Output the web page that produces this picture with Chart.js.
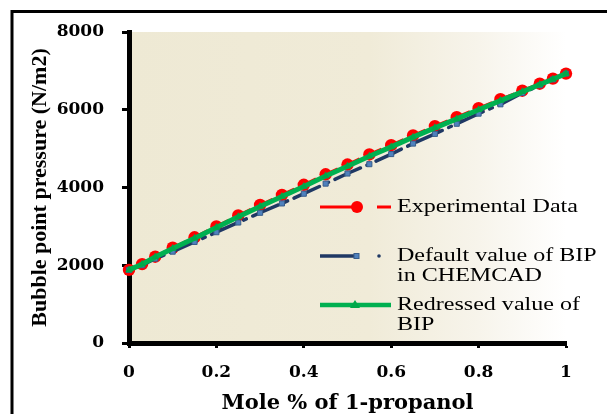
<!DOCTYPE html>
<html>
<head>
<meta charset="utf-8">
<script src="https://cdn.jsdelivr.net/npm/chart.js@4.4.1/dist/chart.umd.min.js"></script>
<style>
html,body{margin:0;padding:0;background:#fff;}
canvas{display:block;}
</style>
</head>
<body>
<canvas id="c" width="607" height="414"></canvas>
<script>
// ---- data ----
const molFraction = [0, 0.03, 0.06, 0.1, 0.15, 0.2, 0.25, 0.3, 0.35, 0.4, 0.45, 0.5, 0.55, 0.6, 0.65, 0.7, 0.75, 0.8, 0.85, 0.9, 0.94, 0.97, 1.0];
const experimental = [1880, 2030, 2220, 2450, 2720, 3000, 3280, 3550, 3810, 4070, 4340, 4590, 4850, 5090, 5340, 5580, 5810, 6040, 6270, 6490, 6670, 6800, 6930];
const defaultBIP   = [1880, 2000, 2170, 2350, 2600, 2850, 3100, 3350, 3590, 3840, 4100, 4360, 4600, 4860, 5130, 5380, 5640, 5900, 6140, 6430, 6630, 6780, 6930];
const redressedBIP = [1880, 2025, 2210, 2430, 2695, 2970, 3245, 3510, 3770, 4025, 4295, 4545, 4805, 5045, 5295, 5535, 5765, 6000, 6235, 6460, 6650, 6785, 6930];
const xTickLabels = ['0', '0.2', '0.4', '0.6', '0.8', '1'];
const yTickLabels = ['0', '2000', '4000', '6000', '8000'];
const legendLabels = [['Experimental Data'], ['Default value of BIP', 'in CHEMCAD'], ['Redressed value of', 'BIP']];
const xTitle = 'Mole % of 1-propanol';
const yTitle = 'Bubble point pressure (N/m2)';

function pts(ys) { return molFraction.map((x, i) => ({x: x, y: ys[i]})); }

const bgPlugin = {
  id: 'bg',
  beforeDraw(chart) {
    const {ctx, chartArea: a} = chart;
    ctx.save();
    ctx.fillStyle = '#ffffff';
    ctx.fillRect(0, 0, chart.width, chart.height);
    const g = ctx.createLinearGradient(a.left, 0, a.right, 0);
    g.addColorStop(0, '#EEE9D4');
    g.addColorStop(0.55, '#F0EBD8');
    g.addColorStop(0.8, '#F7F4EB');
    g.addColorStop(1, '#FFFFFF');
    ctx.fillStyle = g;
    ctx.fillRect(a.left, a.top, a.right - a.left, a.bottom - a.top);
    // outer frame
    ctx.strokeStyle = '#000';
    ctx.lineWidth = 3;
    ctx.beginPath();
    ctx.moveTo(607, 11.5); ctx.lineTo(12, 11.5); ctx.lineTo(12, 414);
    ctx.stroke();
    ctx.restore();
  }
};

const legendPlugin = {
  id: 'customLegend',
  afterDraw(chart) {
    const ctx = chart.ctx;
    ctx.save();
    const rows = [207, 256, 305];
    const x0 = 320, tx = 397;
    // red
    ctx.strokeStyle = '#FF0000'; ctx.lineWidth = 3;
    ctx.beginPath(); ctx.moveTo(x0, rows[0]); ctx.lineTo(356, rows[0]); ctx.stroke();
    ctx.beginPath(); ctx.moveTo(377, rows[0]); ctx.lineTo(391, rows[0]); ctx.stroke();
    ctx.fillStyle = '#FF0000';
    ctx.beginPath(); ctx.arc(357, rows[0], 6, 0, Math.PI * 2); ctx.fill();
    // blue
    ctx.strokeStyle = '#1F3864'; ctx.lineWidth = 3.5;
    ctx.beginPath(); ctx.moveTo(x0, rows[1]); ctx.lineTo(356, rows[1]); ctx.stroke();
    ctx.fillStyle = '#4F81BD'; ctx.strokeStyle = '#385D8A'; ctx.lineWidth = 1;
    ctx.fillRect(354, rows[1] - 2.5, 5, 5); ctx.strokeRect(354, rows[1] - 2.5, 5, 5);
    ctx.fillStyle = '#1F3864';
    ctx.beginPath(); ctx.arc(379, rows[1], 1.8, 0, Math.PI * 2); ctx.fill();
    // green
    ctx.strokeStyle = '#00B050'; ctx.lineWidth = 4.5;
    ctx.beginPath(); ctx.moveTo(x0, rows[2]); ctx.lineTo(391, rows[2]); ctx.stroke();
    ctx.fillStyle = '#00A84A';
    ctx.beginPath(); ctx.moveTo(355, rows[2] - 5); ctx.lineTo(360, rows[2] + 3); ctx.lineTo(350, rows[2] + 3); ctx.closePath(); ctx.fill();
    // texts
    ctx.fillStyle = '#000';
    ctx.font = '18.5px "Liberation Serif"';
    ctx.textBaseline = 'middle';
    ctx.textAlign = 'left';
    const sx = 1.3;
    legendLabels.forEach((lines, i) => {
      lines.forEach((t, j) => {
        ctx.save();
        ctx.translate(tx, rows[i] + j * 20.5);
        ctx.scale(sx, 1);
        ctx.fillText(t, 0, 0);
        ctx.restore();
      });
    });
    ctx.restore();
  }
};

Chart.defaults.devicePixelRatio = 1;

new Chart(document.getElementById('c'), {
  type: 'line',
  data: {
    datasets: [
      {
        label: 'Redressed value of BIP',
        data: pts(redressedBIP),
        borderColor: '#00B050', backgroundColor: '#00A84A',
        borderWidth: 5, pointStyle: 'triangle', pointRadius: 4.5,
        pointBorderWidth: 0, pointBackgroundColor: '#00A84A',
        order: 0, clip: false, tension: 0
      },
      {
        label: 'Default value of BIP in CHEMCAD',
        data: pts(defaultBIP),
        borderColor: '#1F3864', backgroundColor: '#4F81BD',
        borderWidth: 3.5, borderDash: [28, 7, 3, 7], borderCapStyle: 'round',
        pointStyle: 'rect', pointRadius: 3.6, pointBorderWidth: 1,
        pointBorderColor: '#385D8A', pointBackgroundColor: '#4F81BD',
        order: 1, clip: false, tension: 0
      },
      {
        label: 'Experimental Data',
        data: pts(experimental),
        borderColor: '#FF0000', backgroundColor: '#FF0000',
        borderWidth: 3, borderDash: [16, 8],
        pointStyle: 'circle', pointRadius: 6.2, pointBorderWidth: 0,
        pointBackgroundColor: '#FF0000',
        order: 2, clip: false, tension: 0
      }
    ]
  },
  options: {
    responsive: false,
    animation: false,
    devicePixelRatio: 1,
    layout: {padding: {top: 32, right: 41, left: 0, bottom: 0}},
    plugins: {legend: {display: false}, tooltip: {enabled: false}},
    scales: {
      x: {
        type: 'linear', min: 0, max: 1,
        afterFit(s) { s.height = 71; },
        ticks: {
          stepSize: 0.2, color: '#000', padding: 14,
          font: {family: '"DejaVu Serif"', size: 17, weight: 'bold'},
          callback: (v, i) => xTickLabels[i]
        },
        grid: {drawOnChartArea: false, drawTicks: true, tickLength: 5, tickWidth: 3, color: '#000'},
        border: {display: true, width: 5, color: '#000'},
        title: {
          display: true, text: xTitle, color: '#000',
          font: {family: '"DejaVu Serif"', size: 21, weight: 'bold', lineHeight: 1},
          padding: {top: 0, bottom: 0}
        }
      },
      y: {
        type: 'linear', min: 0, max: 8000,
        afterFit(s) { s.width = 129; },
        ticks: {
          stepSize: 2000, color: '#000', padding: 18,
          font: {family: '"DejaVu Serif"', size: 17, weight: 'bold'},
          callback: (v, i) => yTickLabels[i]
        },
        grid: {drawOnChartArea: false, drawTicks: true, tickLength: 7, tickWidth: 3, color: '#000'},
        border: {display: true, width: 5, color: '#000'},
        title: {
          display: true, text: yTitle, color: '#000',
          font: {family: '"Liberation Serif"', size: 22, weight: 'bold', lineHeight: 1},
          padding: {top: 29, bottom: 0}
        }
      }
    }
  },
  plugins: [bgPlugin, legendPlugin]
});
</script>
</body>
</html>
